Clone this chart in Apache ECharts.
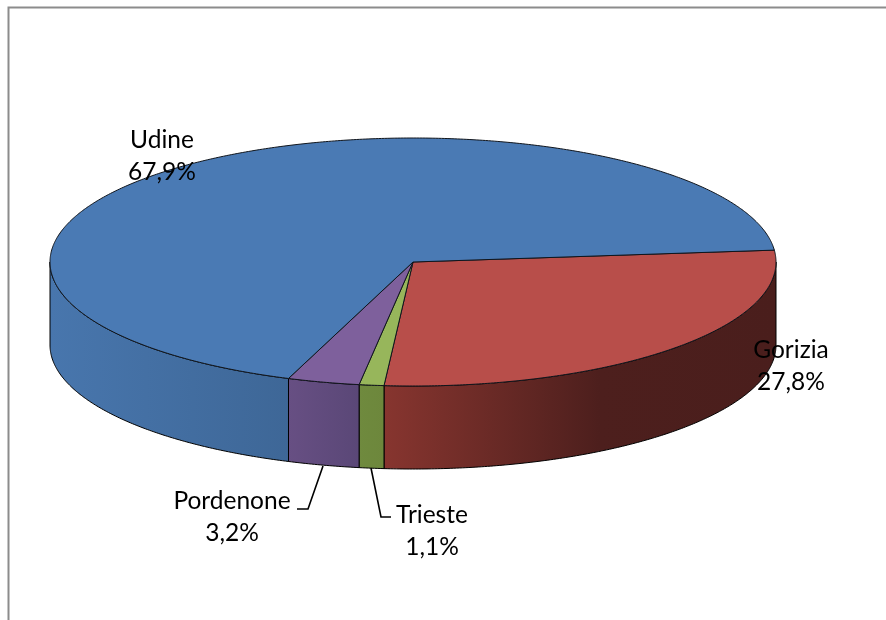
<!DOCTYPE html>
<html>
<head>
<meta charset="utf-8">
<style>html,body{margin:0;padding:0;background:#fff}#c{width:886px;height:620px}</style>
<script src="https://cdn.jsdelivr.net/npm/echarts@6/dist/echarts.min.js"></script>
</head>
<body>
<div id="c"></div>
<script>
// Data
const categories = ['Gorizia', 'Trieste', 'Pordenone', 'Udine'];
const shares = [27.8, 1.1, 3.2, 67.9];
const labelTexts = ['27,8%', '1,1%', '3,2%', '67,9%'];

// Styles and layout
const topColors = ['#b84e4a', '#97b65b', '#7e609c', '#4a7ab4'];
const wallStops = [
  [[0, '#87352f'], [0.55, '#4d1f1d'], [1, '#4a1e1c']],
  [[0, '#6f8a3e'], [1, '#6d873c']],
  [[0, '#674f83'], [1, '#5a4777']],
  [[0, '#4876ad'], [1, '#3e6797']]
];
const labelCenters = [[791, 350], [432, 515], [232, 501], [162, 140]];
const leaders = [null, [[371, 468], [381, 517], [391, 517]], [[323, 466], [308, 509], [297, 509]], null];
const LABEL_FONT = 'Lato';
const LABEL_SIZE = 24.5;
const LINE_GAP = 32;
const cx = 413, cy = 262, rx = 363, ry = 124, depth = 83, startAngle = -5.5;

const total = shares.reduce((a, b) => a + b, 0);
let running = startAngle;
const spans = shares.map(s => {
  const a0 = running;
  running += s / total * 360;
  return [a0, running];
});

function arcPoints(a0, a1, dy) {
  const pts = [];
  const n = Math.max(2, Math.ceil(Math.abs(a1 - a0) * 2));
  for (let i = 0; i <= n; i++) {
    const t = (a0 + (a1 - a0) * i / n) * Math.PI / 180;
    pts.push([cx + rx * Math.cos(t), cy + dy + ry * Math.sin(t)]);
  }
  return pts;
}

const chart = echarts.init(document.getElementById('c'), null, { renderer: 'canvas' });
chart.setOption({
  animation: false,
  backgroundColor: '#ffffff',
  grid: { left: 0, right: 0, top: 0, bottom: 0 },
  xAxis: { type: 'value', min: 0, max: 886, show: false },
  yAxis: { type: 'value', min: 0, max: 620, inverse: true, show: false },
  graphic: [
    { type: 'polyline', silent: true, shape: { points: [[8.5, 620], [8.5, 7.5], [886, 7.5]] },
      style: { stroke: '#8c8c8c', lineWidth: 2, fill: null } }
  ],
  series: [
    {
      type: 'custom',
      coordinateSystem: 'cartesian2d',
      silent: true,
      clip: false,
      z: 2,
      data: shares.map((s, i) => ({ name: categories[i], value: [i, s] })),
      renderItem(params, api) {
        const i = api.value(0);
        const [a0, a1] = spans[i];
        const children = [];
        const w0 = Math.max(a0, 0), w1 = Math.min(a1, 180);
        if (w1 > w0) {
          const upper = arcPoints(w0, w1, 0);
          const lower = arcPoints(w1, w0, depth);
          const xs = upper.map(p => p[0]);
          const left = api.coord([Math.min(...xs), 0])[0];
          const right = api.coord([Math.max(...xs), 0])[0];
          children.push({
            type: 'polygon',
            shape: { points: upper.concat(lower).map(p => api.coord(p)) },
            style: {
              fill: new echarts.graphic.LinearGradient(
                left, 0, right, 0,
                wallStops[i].map(([offset, color]) => ({ offset, color })),
                true),
              stroke: '#000000',
              lineWidth: 1,
              lineJoin: 'round'
            }
          });
        }
        const top = [[cx, cy]].concat(arcPoints(a0, a1, 0));
        children.push({
          type: 'polygon',
          shape: { points: top.map(p => api.coord(p)) },
          style: { fill: topColors[i], stroke: '#10151c', lineWidth: 1, lineJoin: 'round' }
        });
        return { type: 'group', children };
      }
    },
    {
      type: 'custom',
      coordinateSystem: 'cartesian2d',
      silent: true,
      clip: false,
      z: 5,
      data: categories.map((c, i) => ({ name: c, value: [i, shares[i]] })),
      renderItem(params, api) {
        const i = api.value(0);
        const [lx, ly] = api.coord(labelCenters[i]);
        const font = LABEL_SIZE + 'px ' + LABEL_FONT;
        const children = [
          { type: 'text', x: lx, y: ly, style: { text: categories[i], font, fill: '#000', align: 'center', verticalAlign: 'middle' } },
          { type: 'text', x: lx, y: ly + LINE_GAP, style: { text: labelTexts[i], font, fill: '#000', align: 'center', verticalAlign: 'middle' } }
        ];
        if (leaders[i]) {
          children.push({
            type: 'polyline',
            shape: { points: leaders[i].map(p => api.coord(p)) },
            style: { stroke: '#000', lineWidth: 1.6, fill: null }
          });
        }
        return { type: 'group', children };
      }
    }
  ]
});
</script>
</body>
</html>
